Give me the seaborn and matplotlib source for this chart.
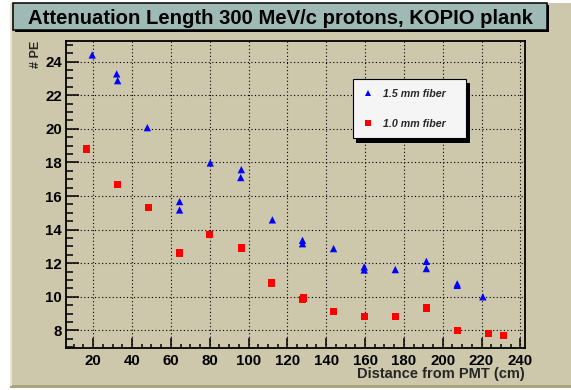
import matplotlib
matplotlib.use("Agg")
import matplotlib.pyplot as plt
from matplotlib.patches import Rectangle
from matplotlib.ticker import MultipleLocator
import seaborn as sns
import pandas as pd

# ---- data ----
dist_15 = [19.5, 32.1, 32.6, 47.9, 64.5, 64.5, 80.3, 96.3, 96.0, 112.3,
           127.8, 127.8, 143.8, 159.6, 159.6, 175.6, 191.6, 191.6, 207.5, 207.5, 220.7]
pe_15 = [24.4, 23.27, 22.87, 20.07, 15.67, 15.17, 17.97, 17.57, 17.1, 14.58,
         13.36, 13.16, 12.87, 11.78, 11.6, 11.62, 12.11, 11.68, 10.77, 10.68, 10.0]
dist_10 = [16.6, 32.6, 48.4, 64.5, 80.0, 96.3, 111.8, 127.8, 128.3, 143.8,
           159.6, 175.6, 191.6, 207.5, 223.6, 231.3]
pe_10 = [18.79, 16.7, 15.31, 12.61, 13.72, 12.91, 10.83, 9.82, 9.92, 9.12,
         8.82, 8.82, 9.34, 8.0, 7.8, 7.71]
series_labels = ["1.5 mm fiber", "1.0 mm fiber"]
title_text = "Attenuation Length 300 MeV/c protons, KOPIO plank"
xlabel_text = "Distance from PMT (cm)"
ylabel_text = "# PE"

df = pd.DataFrame({
    "dist": dist_15 + dist_10,
    "pe": pe_15 + pe_10,
    "fiber": [series_labels[0]] * len(dist_15) + [series_labels[1]] * len(dist_10),
})

sns.set_theme(style="ticks")
plt.rcParams["font.family"] = ["Liberation Sans", "DejaVu Sans"]
plt.rcParams["font.weight"] = "bold"

W, H = 571, 390
TAN = "#cdc8ab"
fig = plt.figure(figsize=(W / 100, H / 100), dpi=100)
fig.patch.set_facecolor("white")

def fx(px):
    return px / W

def fy(py):
    return 1 - py / H

# canvas
fig.patches.append(Rectangle((fx(10), fy(386)), fx(561), 383 / H, transform=fig.transFigure,
                             facecolor=TAN, edgecolor="none", zorder=-3))
fig.patches.append(Rectangle((fx(10), fy(387.5)), fx(561), 2.2 / H, transform=fig.transFigure,
                             facecolor="#a9a37f", edgecolor="none", zorder=-2))
fig.patches.append(Rectangle((fx(9.5), fy(386)), 2 / W, 383 / H, transform=fig.transFigure,
                             facecolor="#e8e5d6", edgecolor="none", zorder=-2))

# title box with shadow
fig.patches.append(Rectangle((fx(15), fy(32.3)), fx(534), 27 / H, transform=fig.transFigure,
                             facecolor="black", edgecolor="none", zorder=2))
fig.patches.append(Rectangle((fx(12.7), fy(30.3)), fx(534), 27 / H, transform=fig.transFigure,
                             facecolor="#9fb9b4", edgecolor="black", linewidth=1.1, zorder=3))
fig.text(fx(281), fy(24.5), title_text, ha="center", va="baseline", fontsize=14.6,
         fontweight="bold", color="black", zorder=4)

ax = fig.add_axes([fx(66), fy(348), 459 / W, 307 / H])
ax.set_zorder(1)
ax.set_facecolor(TAN)

sns.scatterplot(data=df, x="dist", y="pe", hue="fiber", style="fiber",
                hue_order=series_labels, style_order=series_labels,
                markers={series_labels[0]: "^", series_labels[1]: "s"},
                palette={series_labels[0]: "#0000ff", series_labels[1]: "#ff0000"},
                s=28, linewidth=0, ax=ax, zorder=3)

ax.set_xlim(6, 242.4)
ax.set_ylim(6.95, 25.23)
ax.xaxis.set_major_locator(MultipleLocator(20))
ax.xaxis.set_minor_locator(MultipleLocator(5))
ax.yaxis.set_major_locator(MultipleLocator(2))
ax.yaxis.set_minor_locator(MultipleLocator(0.5))
ax.set_xticks(range(20, 241, 20))
ax.set_xticks([v for v in range(10, 241, 5)], minor=True)

ax.grid(True, which="major", color="black", linestyle=(0, (1, 2.2)), linewidth=0.8)
ax.set_axisbelow(True)
for sp in ax.spines.values():
    sp.set_linewidth(1.3)
    sp.set_color("black")

ax.tick_params(axis="both", which="both", direction="in", top=False, right=False,
               colors="black", labelsize=10.8, width=1.1)
ax.tick_params(axis="x", which="major", length=7.2, pad=4)
ax.tick_params(axis="x", which="minor", length=3.2)
ax.tick_params(axis="y", which="major", length=9.4, pad=3)
ax.tick_params(axis="y", which="minor", length=4.7)
for lbl in ax.get_xticklabels() + ax.get_yticklabels():
    lbl.set_fontweight("bold")

ax.set_xlabel(xlabel_text, fontsize=10.5, fontweight="bold", loc="right")
ax.xaxis.set_label_coords(1.0, -0.062)
ax.set_ylabel(ylabel_text, fontsize=9, fontweight="bold", loc="top")
ax.yaxis.set_label_coords(-0.053, 1.0)

# legend
handles, labels = ax.get_legend_handles_labels()
if ax.get_legend() is not None:
    ax.get_legend().remove()
leg = ax.legend(handles, labels, loc="upper left", mode="expand",
                bbox_to_anchor=(fx(352.7), fy(139.3), (466 - 352.7) / W, 60 / H),
                bbox_transform=fig.transFigure, borderaxespad=0,
                prop={"family": "Liberation Sans", "weight": "bold", "style": "italic", "size": 7.7},
                borderpad=0.9, handlelength=1.0, handletextpad=0.9, labelspacing=1.85,
                fancybox=False, framealpha=1, facecolor="#f5f5f5", edgecolor="black",
                markerscale=0.85)
leg.get_frame().set_linewidth(0.8)
leg.set_zorder(6)
ax.add_patch(Rectangle((fx(356), fy(143)), (469.5 - 356) / W, 60 / H, transform=fig.transFigure,
                       facecolor="black", edgecolor="none", zorder=5.5, clip_on=False))

fig.savefig("out.png", dpi=100, facecolor=fig.get_facecolor())
